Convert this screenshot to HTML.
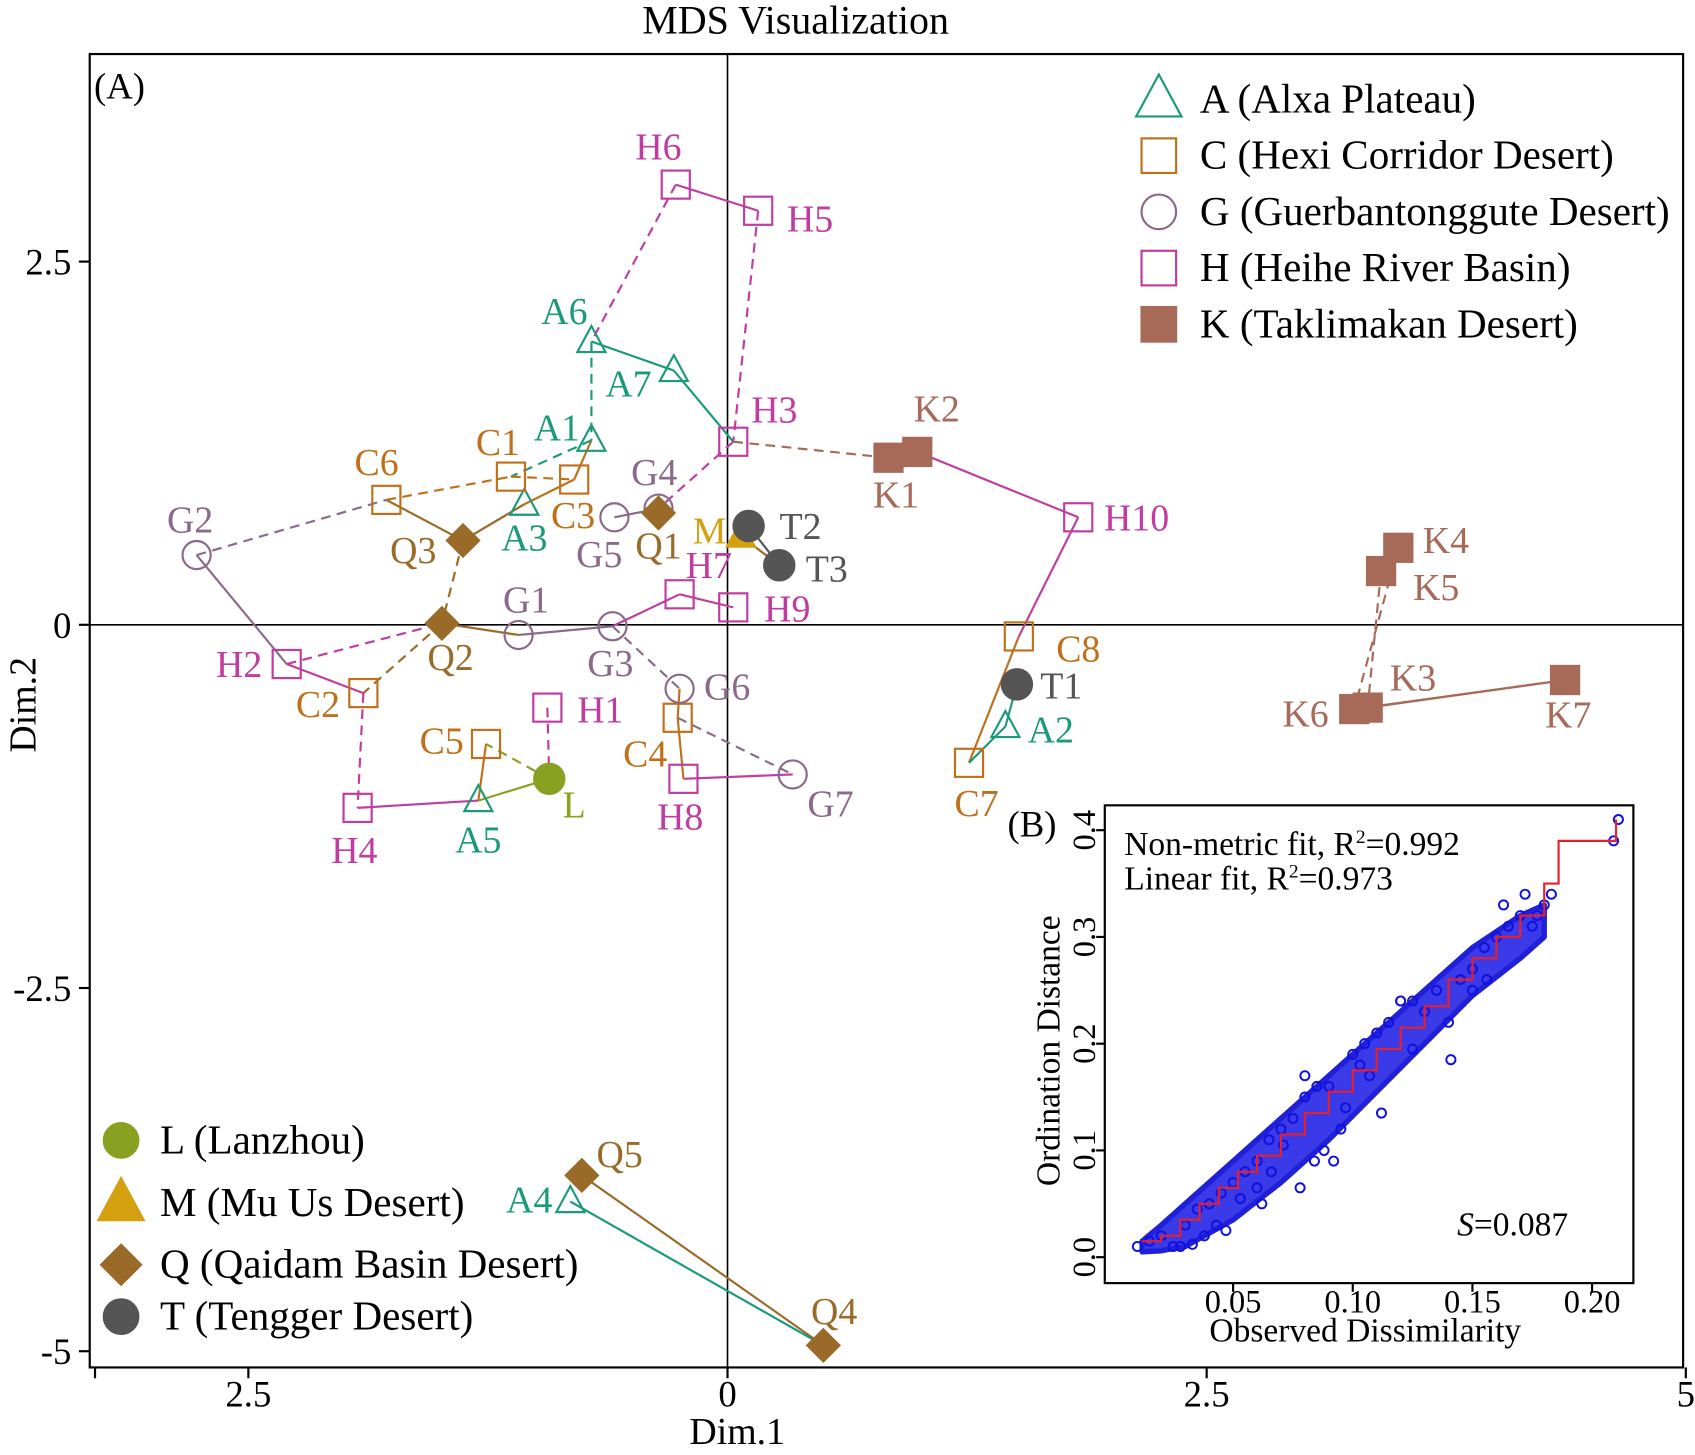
<!DOCTYPE html>
<html><head><meta charset="utf-8"><style>
html,body{margin:0;padding:0;background:#fff;}
svg{display:block;font-family:"Liberation Serif",serif;}
</style></head><body>
<svg id="chart" width="1695" height="1455" viewBox="0 0 1568 1346" preserveAspectRatio="none" xmlns="http://www.w3.org/2000/svg">
<text x="736" y="31" font-size="37" text-anchor="middle">MDS Visualization</text>
<rect x="83" y="50" width="1474" height="1215" fill="none" stroke="#000" stroke-width="2"/>
<text x="87" y="91" font-size="34">(A)</text>
<g id="axes"></g>
<g id="edges"></g>
<g id="marks"></g>
<g id="labels"></g>
<g id="legend"></g>
<g id="inset"></g>
</svg>
<script>
const NS="http://www.w3.org/2000/svg";
function mk(t,a,p){const e=document.createElementNS(NS,t);for(const k in a)e.setAttribute(k,a[k]);p.appendChild(e);return e;}
// ---- main MDS data ----
const pointNames=["A1","A2","A3","A4","A5","A6","A7","C1","C2","C3","C4","C5","C6","C7","C8","G1","G2","G3","G4","G5","G6","G7","H1","H2","H3","H4","H5","H6","H7","H8","H9","H10","K1","K2","K3","K4","K5","K6","K7","L","M","Q1","Q2","Q3","Q4","Q5","T1","T2","T3"];
const dim1=[-0.71,1.45,-1.06,-0.82,-1.30,-0.71,-0.28,-1.13,-1.90,-0.80,-0.26,-1.26,-1.78,1.26,1.52,-1.09,-2.77,-0.60,-0.36,-0.59,-0.25,0.34,-0.94,-2.30,0.03,-1.93,0.16,-0.27,-0.25,-0.23,0.03,1.83,0.84,0.99,3.34,3.50,3.41,3.27,4.37,-0.93,0.07,-0.36,-1.49,-1.38,0.50,-0.76,1.51,0.11,0.27];
const dim2=[1.27,-0.70,0.83,-3.97,-1.21,1.95,1.75,1.02,-0.47,1.00,-0.64,-0.82,0.86,-0.95,-0.08,-0.07,0.48,-0.01,0.80,0.74,-0.44,-1.03,-0.57,-0.27,1.26,-1.26,2.85,3.03,0.21,-1.06,0.12,0.74,1.15,1.19,-0.57,0.53,0.37,-0.58,-0.38,-1.06,0.61,0.77,0.01,0.58,-4.96,-3.79,-0.41,0.68,0.41];
const labelOff={A1:[-32,-12],A2:[42,3],A3:[0,31],A4:[-38,-2],A5:[0,36],A6:[-25,-28],A7:[-42,12],C1:[-12,-32],C2:[-42,10],C3:[-1,33],C4:[-30,33],C5:[-41,-3],C6:[-9,-35],C7:[7,37],C8:[55,11],G1:[7,-33],G2:[-6,-33],G3:[-2,34],G4:[-4,-34],G5:[-14,34],G6:[44,-2],G7:[35,27],H1:[49,2],H2:[-44,0],H3:[38,-30],H4:[-3,39],H5:[48,7],H6:[-16,-35],H7:[27,-27],H8:[-3,35],H9:[50,1],H10:[54,0],K1:[7,34],K2:[18,-40],K3:[42,-28],K4:[44,-7],K5:[51,15],K6:[-45,4],K7:[3,32],L:[23,24],M:[-29,-5],Q1:[0,30],Q2:[8,31],Q3:[-46,9],Q4:[10,-32],Q5:[35,-20],T1:[41,1],T2:[48,0],T3:[44,3]};
const groups={A:{c:"#1a9a7a",s:"tri",f:false},C:{c:"#c0701a",s:"sq",f:false},G:{c:"#8a6a88",s:"circ",f:false},H:{c:"#c03ca0",s:"sq",f:false},K:{c:"#a86a58",s:"sq",f:true},L:{c:"#8aa020",s:"circ",f:true},M:{c:"#d4a010",s:"tri",f:true},Q:{c:"#9a6a28",s:"dia",f:true},T:{c:"#555555",s:"circ",f:true}};
const edges=[["H6","H5","H",0],["H6","A6","H",1],["H5","H3","H",1],["A6","A7","A",0],["A6","A1","A",1],["A7","H3","A",0],["H3","K1","K",1],["K1","K2","K",0],["K2","H10","H",0],["H10","C8","H",0],["C8","C7","C",0],["C7","A2","A",0],["A2","T1","A",0],["H3","G4","H",1],["A1","C3","C",0],["A1","C1","A",1],["C1","C3","C",1],["C6","C1","C",1],["C6","Q3","Q",0],["Q3","A3","Q",0],["A3","C3","C",0],["Q3","Q2","Q",1],["Q2","C2","Q",1],["C2","H2","H",0],["H2","G2","G",0],["G2","C6","G",1],["H2","Q2","H",1],["Q2","G1","Q",0],["G1","G3","G",0],["G3","H7","H",0],["H7","H9","H",0],["T2","T3","T",0],["M","T3","Q",0],["G3","G6","G",1],["G6","C4","C",0],["C4","G7","G",1],["G7","H8","H",0],["H8","C4","C",0],["C2","H4","H",1],["H4","A5","H",0],["A5","L","L",0],["L","C5","L",1],["C5","A5","C",0],["H1","L","H",1],["G5","G4","G",0],["Q1","G4","Q",0],["K4","K6","K",1],["K5","K3","K",1],["K6","K7","K",0],["K3","K7","K",0],["Q5","Q4","Q",0],["A4","Q4","A",0]];
const X=v=>673+177.3*v, Y=v=>578-134.4*v;
const axes=document.getElementById("axes");
let e;
e=mk("line",{x1:X(0),y1:50,x2:X(0),y2:1265,stroke:"#000","stroke-width":1.5},axes);
e=mk("line",{x1:83,y1:Y(0),x2:1557,y2:Y(0),stroke:"#000","stroke-width":1.5},axes);
const yTicks=[2.5,0,-2.5,-5], yTickLabels=["2.5","0","-2.5","-5"];
yTicks.forEach((v,i)=>{e=mk("line",{x1:73,y1:Y(v),x2:83,y2:Y(v),stroke:"#000","stroke-width":2},axes);
 e=mk("text",{x:66,y:Y(v)+12,"font-size":34,"text-anchor":"end"},axes);e.textContent=yTickLabels[i];});
const xTicks=[-3.3,-2.5,0,2.5,5], xTickLabels=["","2.5","0","2.5","5"];
xTicks.forEach((v,i)=>{e=mk("line",{x1:X(v),y1:1265,x2:X(v),y2:1275,stroke:"#000","stroke-width":2},axes);
 if(xTickLabels[i]){e=mk("text",{x:X(v),y:1301,"font-size":34,"text-anchor":"middle"},axes);e.textContent=xTickLabels[i];}});
e=mk("text",{x:682,y:1336,"font-size":35,"text-anchor":"middle"},axes);e.textContent="Dim.1";
e=mk("text",{x:0,y:0,"font-size":35,"text-anchor":"middle",transform:"translate(33,652) rotate(-90)"},axes);e.textContent="Dim.2";
const idx=n=>pointNames.indexOf(n);
const eg=document.getElementById("edges");
edges.forEach(d=>{const a=idx(d[0]),b=idx(d[1]);
 e=mk("line",{x1:X(dim1[a]),y1:Y(dim2[a]),x2:X(dim1[b]),y2:Y(dim2[b]),stroke:groups[d[2]].c,"stroke-width":2,"stroke-dasharray":d[3]?"9,6":"none"},eg);
 });
function marker(p,shape,cx,cy,col,fill,r){let m;
 if(shape=="tri")m=mk("polygon",{points:`${cx},${cy-r*1.1} ${cx-r},${cy+r*0.75} ${cx+r},${cy+r*0.75}`,fill:fill?col:"#fff","fill-opacity":fill?1:0,stroke:col,"stroke-width":2},p);
 else if(shape=="sq")m=mk("rect",{x:cx-r,y:cy-r,width:2*r,height:2*r,fill:fill?col:"none",stroke:col,"stroke-width":2},p);
 else if(shape=="circ")m=mk("circle",{cx:cx,cy:cy,r:r,fill:fill?col:"none",stroke:col,"stroke-width":2},p);
 else m=mk("polygon",{points:`${cx},${cy-r*1.2} ${cx+r*1.2},${cy} ${cx},${cy+r*1.2} ${cx-r*1.2},${cy}`,fill:col,stroke:col,"stroke-width":1},p);
 return m;}
const mg=document.getElementById("marks"),lg=document.getElementById("labels");
pointNames.forEach((n,i)=>{const g=groups[n[0]];const cx=X(dim1[i]),cy=Y(dim2[i]);
 e=marker(mg,g.s,cx,cy,g.c,g.f,g.s=="tri"?13:(g.f&&g.s=="circ"?14:13));
 
 const o=labelOff[n]||[0,-30];
 e=mk("text",{x:cx+o[0],y:cy+o[1]+12,"font-size":35,"text-anchor":"middle",fill:g.c},lg);e.textContent=n;
 });
// legends
const legG=document.getElementById("legend");
const legTop=[["A","A (Alxa Plateau)"],["C","C (Hexi Corridor Desert)"],["G","G (Guerbantonggute Desert)"],["H","H (Heihe River Basin)"],["K","K (Taklimakan Desert)"]];
legTop.forEach((d,i)=>{const g=groups[d[0]],y=92+i*52;
 e=marker(legG,g.s,1072,y,g.c,g.f,g.s=="tri"?21:16);
 e=mk("text",{x:1110,y:y+12,"font-size":38},legG);e.textContent=d[1];});
const legBot=[["L","L (Lanzhou)",1055],["M","M (Mu Us Desert)",1113],["Q","Q (Qaidam Basin Desert)",1170],["T","T (Tengger Desert)",1218]];
legBot.forEach(d=>{const g=groups[d[0]],y=d[2];
 e=marker(legG,g.s,112,y,g.c,g.f,g.s=="tri"?21:16);
 e=mk("text",{x:148,y:y+12,"font-size":38},legG);e.textContent=d[1];});
// ---- inset Shepard plot data ----
const bandX=[0.012,0.02,0.03,0.05,0.07,0.09,0.11,0.13,0.15,0.17,0.18];
const bandLow=[0.005,0.006,0.01,0.035,0.07,0.11,0.155,0.2,0.245,0.28,0.30];
const bandHigh=[0.015,0.03,0.05,0.09,0.13,0.17,0.21,0.25,0.29,0.32,0.33];
const scatX=[0.010,0.015,0.02,0.025,0.03,0.035,0.04,0.045,0.028,0.033,0.043,0.05,0.055,0.06,0.062,0.065,0.07,0.075,0.078,0.08,0.085,0.09,0.095,0.10,0.105,0.11,0.115,0.12,0.125,0.13,0.135,0.14,0.145,0.15,0.155,0.16,0.165,0.17,0.175,0.18,0.183,0.209,0.211,0.084,0.092,0.097,0.103,0.107,0.141,0.112,0.12,0.088,0.071,0.06,0.047,0.038,0.125,0.15,0.156,0.163,0.172,0.177,0.066,0.08,0.053];
const scatY=[0.01,0.015,0.02,0.01,0.03,0.045,0.05,0.06,0.01,0.012,0.03,0.07,0.08,0.09,0.05,0.11,0.12,0.13,0.065,0.15,0.16,0.16,0.12,0.19,0.2,0.21,0.22,0.24,0.24,0.23,0.25,0.22,0.26,0.27,0.29,0.3,0.31,0.32,0.31,0.33,0.34,0.39,0.41,0.09,0.09,0.14,0.18,0.17,0.185,0.135,0.24,0.1,0.105,0.065,0.025,0.02,0.195,0.25,0.26,0.33,0.34,0.32,0.08,0.17,0.055];
const stepX=[0.012,0.02,0.028,0.036,0.044,0.052,0.06,0.07,0.08,0.09,0.10,0.11,0.12,0.13,0.14,0.15,0.16,0.17,0.18,0.186,0.21];
const stepY=[0.015,0.02,0.035,0.05,0.065,0.08,0.095,0.115,0.135,0.155,0.175,0.195,0.215,0.235,0.26,0.28,0.30,0.32,0.35,0.39,0.41];
const iX=v=>1030+2214*v, iY=v=>1163-987.5*v;
const ins=document.getElementById("inset");
e=mk("rect",{x:1022,y:745,width:489,height:442,fill:"#fff",stroke:"#000","stroke-width":2},ins);
e=mk("text",{x:932,y:774,"font-size":34},ins);e.textContent="(B)";
let bp=bandX.map((x,i)=>iX(x)+","+iY(bandHigh[i])).concat(bandX.slice().reverse().map((x,j)=>iX(x)+","+iY(bandLow[bandX.length-1-j])));
e=mk("polygon",{points:bp.join(" "),fill:"#3a3ae8",stroke:"#2020d8","stroke-width":5,"stroke-linejoin":"round"},ins);
scatX.forEach((x,i)=>{e=mk("circle",{cx:iX(x),cy:iY(scatY[i]),r:4.2,fill:"none",stroke:"#1010e0","stroke-width":1.8},ins);});
let d="M"+iX(stepX[0])+","+iY(stepY[0]);
for(let i=1;i<stepX.length;i++){d+=" H"+iX(stepX[i])+" V"+iY(stepY[i]);}
e=mk("path",{d:d,fill:"none",stroke:"#e8202a","stroke-width":2},ins);
const iyTicks=[0,0.1,0.2,0.3,0.4], iyLabels=["0.0","0.1","0.2","0.3","0.4"];
iyTicks.forEach((v,i)=>{e=mk("line",{x1:1014,y1:iY(v),x2:1022,y2:iY(v),stroke:"#000","stroke-width":2},ins);
 e=mk("text",{x:0,y:0,"font-size":30,"text-anchor":"middle",transform:`translate(1013,${iY(v)}) rotate(-90)`},ins);e.textContent=iyLabels[i];});
const ixTicks=[0.05,0.10,0.15,0.20], ixLabels=["0.05","0.10","0.15","0.20"];
ixTicks.forEach((v,i)=>{e=mk("line",{x1:iX(v),y1:1187,x2:iX(v),y2:1195,stroke:"#000","stroke-width":2},ins);
 e=mk("text",{x:iX(v),y:1214,"font-size":30,"text-anchor":"middle"},ins);e.textContent=ixLabels[i];});
e=mk("text",{x:1263,y:1241,"font-size":31,"text-anchor":"middle"},ins);e.textContent="Observed Dissimilarity";
e=mk("text",{x:0,y:0,"font-size":31,"text-anchor":"middle",transform:"translate(980,972) rotate(-90)"},ins);e.textContent="Ordination Distance";
e=mk("text",{x:1040,y:791,"font-size":31},ins);e.innerHTML='Non-metric fit, R<tspan font-size="18" dy="-11">2</tspan><tspan dy="11">=0.992</tspan>';
e=mk("text",{x:1040,y:823,"font-size":31},ins);e.innerHTML='Linear fit, R<tspan font-size="18" dy="-11">2</tspan><tspan dy="11">=0.973</tspan>';
e=mk("text",{x:1348,y:1143,"font-size":31},ins);e.innerHTML='<tspan font-style="italic">S</tspan>=0.087';
</script>
</body></html>
